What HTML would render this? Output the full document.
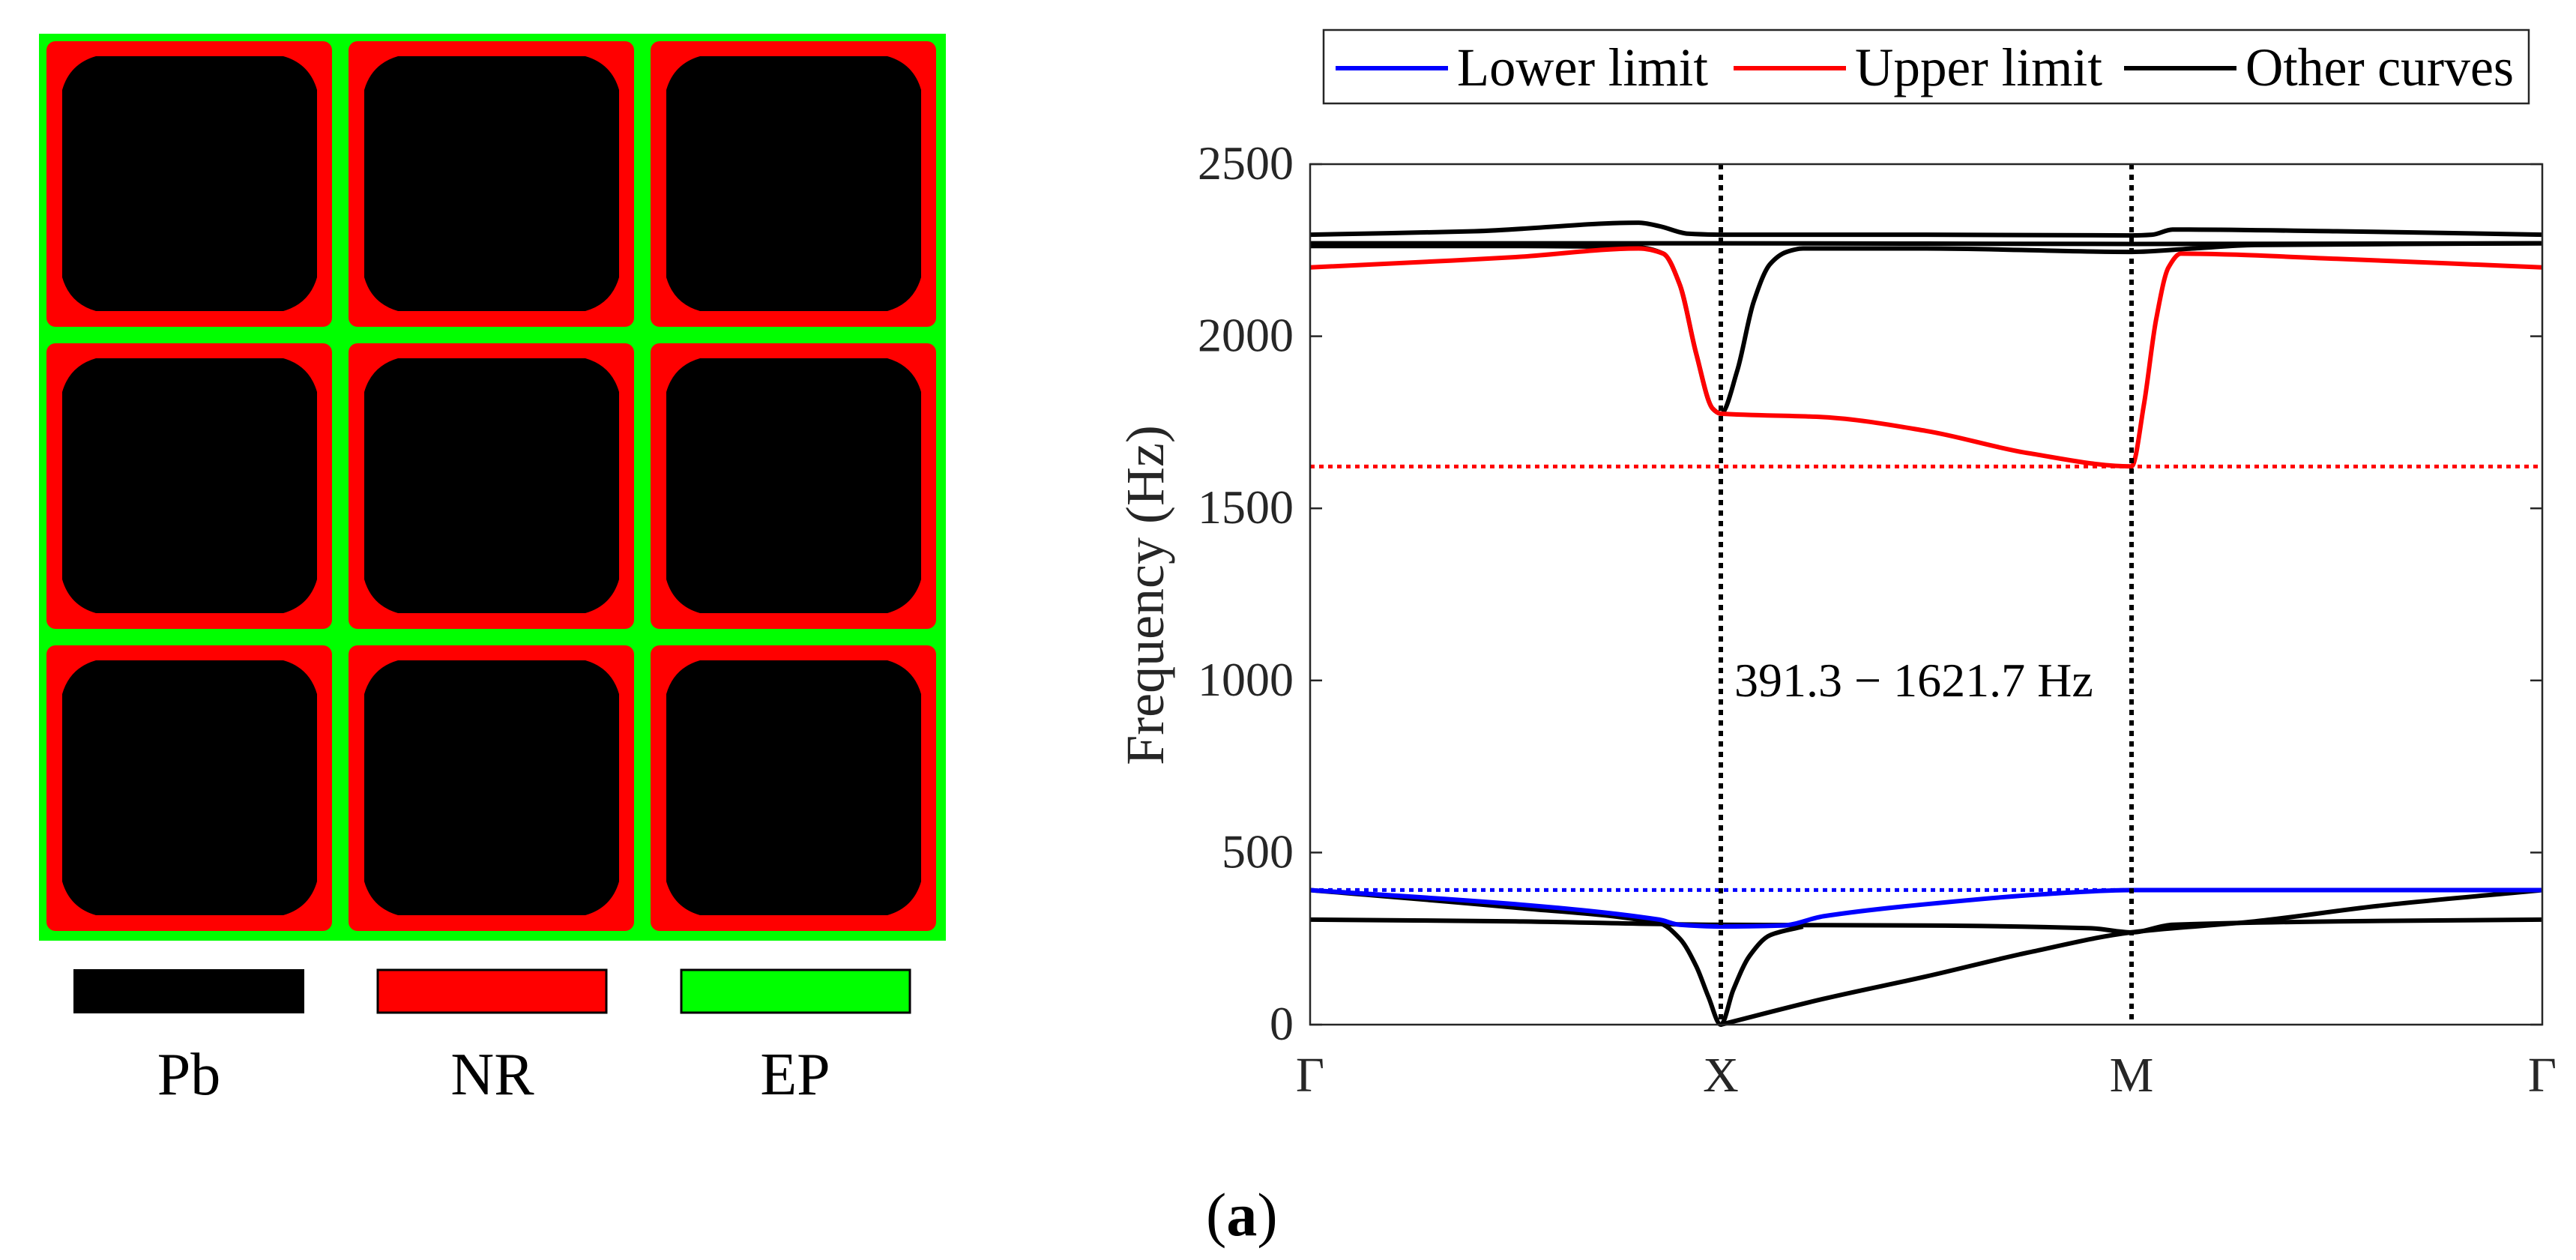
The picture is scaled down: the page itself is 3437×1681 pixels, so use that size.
<!DOCTYPE html>
<html><head><meta charset="utf-8"><style>
html,body{margin:0;padding:0;background:#fff;}
body{width:3437px;height:1681px;overflow:hidden;position:relative;font-family:"Liberation Serif",serif;}
svg{position:absolute;left:0;top:0;}
</style></head><body>
<svg id="fig" width="3437" height="1681" viewBox="0 0 3437 1681" xmlns="http://www.w3.org/2000/svg">
  <g id="lattice"></g>
  <g>
    <rect x="98" y="1293" width="308" height="59" fill="#000"/>
    <rect x="504" y="1294" width="305" height="57" fill="#ff0000" stroke="#000" stroke-width="3"/>
    <rect x="909" y="1294" width="305" height="57" fill="#00ff00" stroke="#000" stroke-width="3"/>
    <text x="252" y="1460" font-size="80" text-anchor="middle">Pb</text>
    <text x="657" y="1460" font-size="80" text-anchor="middle">NR</text>
    <text x="1061" y="1460" font-size="80" text-anchor="middle">EP</text>
  </g>
  <g id="chart"></g>
  <text x="1609" y="1648" font-size="82" font-family="'Liberation Serif',serif">(<tspan font-weight="bold">a</tspan>)</text>
</svg>
<script>
// ---- chart data ----
const xTickLabels = ["Γ","X","M","Γ"];
const yTicks = [0,500,1000,1500,2000,2500];
const lowerLimit = 391.3;
const upperLimit = 1621.7;
const blueX = [0,0.5,0.85,0.9,1.0,1.15,1.25,1.5,1.8,2.0,3.0];
const blueY = [391,350,305,290,285,288,315,350,380,391,391];
const redX = [0,0.5,0.8,0.86,0.9,0.94,0.98,1.0,1.25,1.5,1.75,2.0,2.03,2.06,2.09,2.12,2.5,3.0];
const redY = [2200,2230,2255,2240,2150,1950,1790,1775,1765,1725,1660,1622,1800,2050,2200,2240,2225,2200];
const blackTopX = [0,0.4,0.8,0.85,0.92,1.0,1.5,2.0,2.05,2.1,2.5,3.0];
const blackTopY = [2295,2305,2330,2320,2298,2295,2295,2293,2295,2310,2305,2295];
const blackFlatX = [0,1,2,3];
const blackFlatY = [2270,2270,2268,2270];
const blackRiseX = [0,0.5,0.8,0.86,0.9,0.94,0.98,1.0,1.04,1.08,1.12,1.16,1.2,1.5,2.0,2.15,2.3,3.0];
const blackRiseY = [2262,2262,2258,2240,2150,1950,1790,1775,1900,2100,2210,2245,2255,2255,2245,2255,2265,2270];
const blackLowAX = [0,0.5,0.85,0.9,0.94,0.97,1.0,1.03,1.07,1.12,1.2];
const blackLowAY = [391,340,295,250,170,80,0,100,200,260,285];
const blackLowBX = [1.0,1.25,1.5,1.75,2.0,2.3,2.6,3.0];
const blackLowBY = [0,75,140,210,268,300,345,391];
const blackLowCX = [0,0.5,1.0,1.5,1.9,2.0,2.1,2.5,3.0];
const blackLowCY = [305,300,290,288,280,268,290,300,305];

const NS="http://www.w3.org/2000/svg";
const PL=1748, PR=3392, PT=219, PB=1367;
const xs = v => PL + (PR-PL)*v/3;
const ys = v => PB - (PB-PT)*v/2500;
function mk(tag, attrs, parent){const e=document.createElementNS(NS,tag);for(const k in attrs)e.setAttribute(k,attrs[k]);parent.appendChild(e);return e;}
const chart=document.getElementById('chart');

// monotone cubic (Fritsch–Carlson) in pixel space
function smoothPath(X,Y){
  const px=X.map(xs), py=Y.map(ys), n=px.length;
  const d=[],m=new Array(n);
  for(let i=0;i<n-1;i++) d.push((py[i+1]-py[i])/(px[i+1]-px[i]));
  m[0]=d[0]; m[n-1]=d[n-2];
  for(let i=1;i<n-1;i++){
    if(d[i-1]*d[i]<=0) m[i]=0;
    else m[i]=2/(1/d[i-1]+1/d[i]);
  }
  let s='M'+px[0].toFixed(1)+' '+py[0].toFixed(1);
  for(let i=0;i<n-1;i++){
    const h=(px[i+1]-px[i])/3;
    s+=` C${(px[i]+h).toFixed(1)} ${(py[i]+m[i]*h).toFixed(1)} ${(px[i+1]-h).toFixed(1)} ${(py[i+1]-m[i+1]*h).toFixed(1)} ${px[i+1].toFixed(1)} ${py[i+1].toFixed(1)}`;
  }
  return s;
}
function series(X,Y,color,name){
  const p=mk('path',{d:smoothPath(X,Y),fill:'none',stroke:color,'stroke-width':6,'stroke-linejoin':'round'},chart);
  
  
}
let l;
l=mk('line',{x1:PL,x2:PR,y1:ys(lowerLimit),y2:ys(lowerLimit),stroke:'#0000ff','stroke-width':5,'stroke-dasharray':'6 6'},chart);


l=mk('line',{x1:PL,x2:PR,y1:ys(upperLimit),y2:ys(upperLimit),stroke:'#ff0000','stroke-width':5,'stroke-dasharray':'6 6'},chart);



series(blackTopX,blackTopY,'#000','other-curve-top');
series(blackFlatX,blackFlatY,'#000','other-curve-flat');
series(blackRiseX,blackRiseY,'#000','other-curve-rise');
series(blackLowCX,blackLowCY,'#000','other-curve-low-flat');
series(blackLowBX,blackLowBY,'#000','other-curve-acoustic');
series(blackLowAX,blackLowAY,'#000','other-curve-low-dip');
series(blueX,blueY,'#0000ff','lower-limit-curve');
series(redX,redY,'#ff0000','upper-limit-curve');

[1,2].forEach(v=>{
  const e=mk('line',{x1:xs(v),x2:xs(v),y1:PT,y2:PB,stroke:'#000','stroke-width':6,'stroke-dasharray':'7 7'},chart);
  
  
});
const box=mk('rect',{x:PL,y:PT,width:PR-PL,height:PB-PT,fill:'none',stroke:'#262626','stroke-width':2.5},chart);


yTicks.forEach(t=>{
  mk('line',{x1:PL,x2:PL+16,y1:ys(t),y2:ys(t),stroke:'#262626','stroke-width':2.5},chart);
  mk('line',{x1:PR-16,x2:PR,y1:ys(t),y2:ys(t),stroke:'#262626','stroke-width':2.5},chart);
  const tx=mk('text',{x:PL-22,y:ys(t)+20,'font-size':64,'text-anchor':'end',fill:'#262626'},chart);
  tx.textContent=t;
  
  
});
xTickLabels.forEach((t,i)=>{
  const tx=mk('text',{x:xs(i),y:1456,'font-size':66,'text-anchor':'middle',fill:'#262626'},chart);
  tx.textContent=t;
  
  
});
const yt=mk('text',{x:0,y:0,'font-size':72,'text-anchor':'middle',fill:'#262626',transform:'translate(1552,794) rotate(-90)'},chart);
yt.textContent='Frequency (Hz)';


const an=mk('text',{x:2314,y:929,'font-size':64,fill:'#000'},chart);
an.textContent='391.3 − 1621.7 Hz';


const lg=mk('g',{},chart);


mk('rect',{x:1766,y:40,width:1608,height:98,fill:'#fff',stroke:'#262626','stroke-width':2.5},lg);
[[1782,'#0000ff','Lower limit'],[2313,'#ff0000','Upper limit'],[2834,'#000','Other curves']].forEach(([x,c,t])=>{
  mk('line',{x1:x,x2:x+150,y1:91,y2:91,stroke:c,'stroke-width':6},lg);
  const tx=mk('text',{x:x+162,y:114,'font-size':72,fill:'#000',textLength:t==='Other curves'?358:t==='Lower limit'?335:330,lengthAdjust:'spacingAndGlyphs'},lg);
  tx.textContent=t;
  
  
});

// ---- lattice ----
const lat=document.getElementById('lattice');
mk('rect',{x:52,y:45,width:1210,height:1210,fill:'#00ff00'},lat);
for(let r=0;r<3;r++)for(let c=0;c<3;c++){
  const ox=62+c*403, oy=55+r*403;
  const g=mk('g',{},lat);
  
  
  mk('rect',{x:ox,y:oy,width:381,height:381,rx:12,fill:'#ff0000'},g);
  const x0=ox+21,y0=oy+20,x1=ox+361,y1=oy+360,k=45;
  mk('path',{d:`M${x0+k} ${y0} L${x1-k} ${y0} Q${x1-10} ${y0+10} ${x1} ${y0+k} L${x1} ${y1-k} Q${x1-10} ${y1-10} ${x1-k} ${y1} L${x0+k} ${y1} Q${x0+10} ${y1-10} ${x0} ${y1-k} L${x0} ${y0+k} Q${x0+10} ${y0+10} ${x0+k} ${y0} Z`,fill:'#000'},g);
}
</script>
</body></html>
